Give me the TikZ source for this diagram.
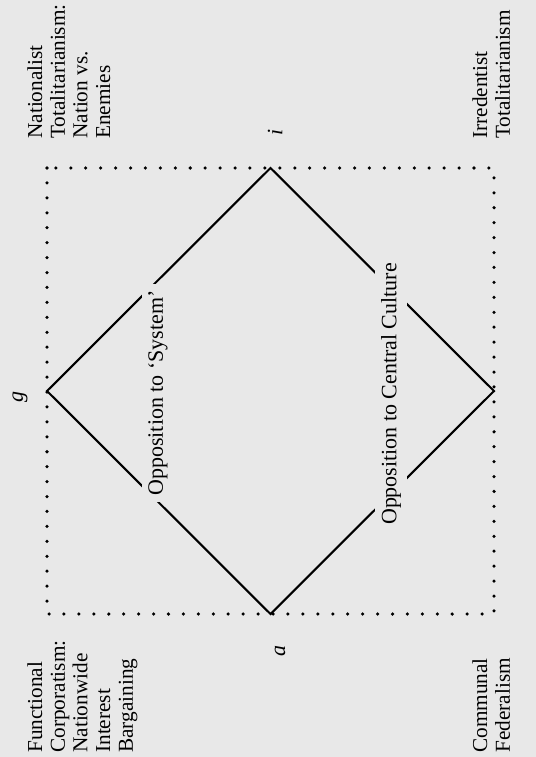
\documentclass[tikz,border=0pt]{standalone}
\usepackage{fontspec}
\setmainfont{Liberation Serif}
\definecolor{paper}{RGB}{232,232,232}
\tikzset{
  rot/.style={rotate=90, inner sep=0pt},
  corner/.style={rot, align=left, anchor=north west,
    font=\fontsize{12.1}{12.9}\selectfont},
  opp/.style={rot, fill=paper, inner sep=3.5pt,
    font=\fontsize{12.5}{14}\selectfont},
  vlabel/.style={rot, font=\itshape\fontsize{12.5}{14}\selectfont},
}

\begin{document}
\begin{tikzpicture}[x=0.02cm, y=-0.02cm]
  \fill[paper] (0,0) rectangle (536,757);
  \useasboundingbox (0,0) rectangle (536,757);
  % dotted frame
  \draw[line width=2pt, dash pattern=on 0pt off 8.5pt, line cap=round]
    (47,168) rectangle (494,614);
  % diamond
  \coordinate (vg) at (47,391);
  \coordinate (vi) at (270.5,168);
  \coordinate (vr) at (494,391);
  \coordinate (va) at (270.5,614);
  \draw[line width=1.2pt] (vg) -- (vi) -- (vr) -- (va) -- cycle;
  \node[opp] (sys) at (158,393) {Opposition to `System'};
  \node[opp] (cult) at (391,394) {Opposition to Central Culture};
  % vertex letters
  \foreach \n/\x/\y in {g/20/397, i/275/132, a/280/651}
    \node[vlabel] (\n) at (\x,\y) {\n};
  % corner types
  \node[corner] (nat) at (27,139) {Nationalist\\Totalitarianism:\\Nation vs.\\Enemies};
  \node[corner] (irr) at (472,139) {Irredentist\\Totalitarianism};
  \node[corner] (fun) at (27,753) {Functional\\Corporatism:\\Nationwide\\Interest\\Bargaining};
  \node[corner] (com) at (472,753) {Communal\\Federalism};
\end{tikzpicture}
\end{document}
